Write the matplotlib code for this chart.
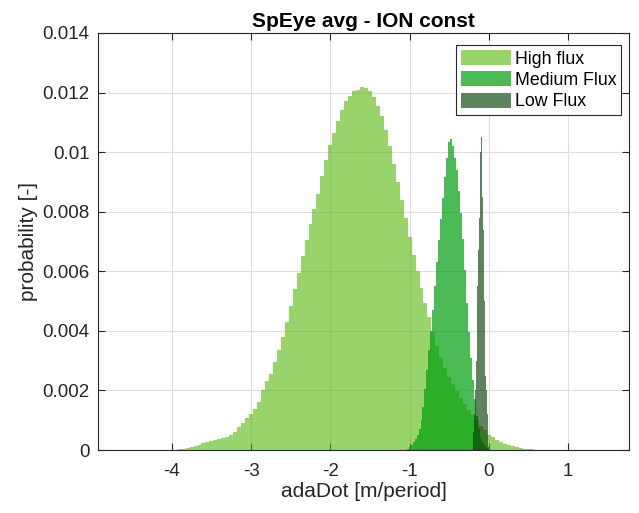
import numpy as np
import matplotlib
matplotlib.use("Agg")
import matplotlib.pyplot as plt
from matplotlib.ticker import FuncFormatter

# bin heights (probability per bin), x0 = first bin centre, dx = bin width
high_x0, high_dx = -4.0, 0.05
high_p = np.array([
    0.00, 0.01, 0.02, 0.04, 0.06, 0.09, 0.12, 0.16, 0.22, 0.27,
    0.31, 0.35, 0.38, 0.41, 0.45, 0.52, 0.62, 0.76, 0.92, 1.08,
    1.22, 1.38, 1.62, 2.00, 2.30, 2.55, 2.95, 3.35, 3.80, 4.30,
    4.85, 5.40, 5.95, 6.50, 7.05, 7.60, 8.10, 8.60, 9.20, 9.75,
    10.25, 10.65, 11.05, 11.40, 11.70, 11.90, 12.05, 12.10, 12.20, 12.15,
    12.05, 11.85, 11.55, 11.20, 10.75, 10.20, 9.60, 9.00, 8.40, 7.80,
    7.15, 6.55, 6.00, 5.45, 4.95, 4.45, 3.95, 3.50, 3.10, 2.75,
    2.45, 2.20, 1.98, 1.75, 1.55, 1.35, 1.18, 1.00, 0.82, 0.66,
    0.52, 0.42, 0.34, 0.27, 0.21, 0.16, 0.12, 0.09, 0.07, 0.05,
    0.03, 0.02, 0.01, 0.005]) * 1e-3

med_x0, med_dx = -1.05, 0.025
med_p = np.array([
    0.00, 0.05, 0.10, 0.18, 0.27, 0.38, 0.50, 0.70, 1.00, 1.45,
    2.05, 2.70, 3.35, 4.00, 4.70, 5.50, 6.30, 7.05, 7.75, 8.45,
    9.15, 9.80, 10.35, 10.45, 10.20, 9.80, 9.40, 8.70, 7.95, 7.10,
    6.05, 4.95, 3.95, 3.10, 2.35, 1.70, 1.15, 0.70, 0.40, 0.22,
    0.12, 0.06, 0.02]) * 1e-3

low_x0, low_dx = -0.20, 0.01
low_p = np.array([
    0.2, 0.6, 1.2, 2.0, 3.0, 4.3, 5.5, 6.7, 7.8, 10.0,
    11.3, 10.5, 8.5, 7.4, 5.0, 3.5, 2.5, 2.0, 1.2, 0.5,
    0.1]) * 1e-3

labels = ["High flux", "Medium Flux", "Low Flux"]

plt.rcParams['font.family'] = ['Liberation Sans', 'DejaVu Sans']
plt.rcParams['axes.unicode_minus'] = False

fig = plt.figure(figsize=(6.39, 5.13), dpi=100)
ax = fig.add_axes([0.1534, 0.1228, 0.8313, 0.8129])

def edges(x0, dx, n):
    return x0 - dx / 2 + dx * np.arange(n + 1)

ax.stairs(high_p, edges(high_x0, high_dx, len(high_p)), fill=True,
          color=(0.33, 0.72, 0.03), alpha=0.6, lw=0, label=labels[0])
ax.stairs(med_p, edges(med_x0, med_dx, len(med_p)), fill=True,
          color=(0.0, 0.62, 0.05), alpha=0.7, lw=0, label=labels[1])
ax.stairs(low_p, edges(low_x0, low_dx, len(low_p)), fill=True,
          color=(0.0, 0.24, 0.0), alpha=0.63, lw=0, label=labels[2])

ax.set_xlim(-4.93, 1.77)
ax.set_ylim(0, 0.014)
ax.set_xticks([-4, -3, -2, -1, 0, 1])
ax.set_yticks(np.arange(0, 0.0141, 0.002))
ax.yaxis.set_major_formatter(FuncFormatter(lambda v, p: '%g' % round(v, 4)))

ax.set_axisbelow(True)
ax.grid(True, color='#dedede', lw=0.8)
for s in ax.spines.values():
    s.set_color('#262626')
    s.set_linewidth(0.8)
ax.tick_params(direction='in', length=5, width=0.8, colors='#262626',
               labelsize=13.5, top=True, right=True, labelcolor='#262626')
ax.tick_params(axis='x', pad=9)
ax.tick_params(axis='y', pad=6)

ax.set_title("SpEye avg - ION const", fontsize=15, fontweight='bold', pad=4)
ax.set_xlabel("adaDot [m/period]", fontsize=15, color='#262626', labelpad=2)
ax.set_ylabel("probability [-]", fontsize=15, color='#262626', labelpad=3)

leg = ax.legend(loc='upper right', bbox_to_anchor=(0.985, 0.971),
                borderaxespad=0, fontsize=12.8, fancybox=False, framealpha=1,
                edgecolor='#262626', handlelength=2.8, handleheight=0.9,
                handletextpad=0.22, labelspacing=0.22, borderpad=0.28)
leg.get_frame().set_linewidth(0.8)

fig.savefig("out.png", dpi=100)
